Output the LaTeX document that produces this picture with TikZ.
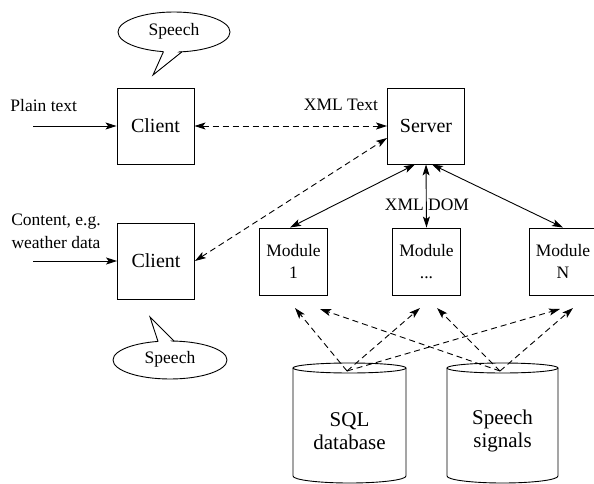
\documentclass[tikz,border=0pt]{standalone}
\usepackage{fontspec}
\setmainfont{Liberation Serif}
\usetikzlibrary{arrows.meta}
\begin{document}
\begin{tikzpicture}[x=1pt,y=-1pt,
  line width=0.9pt,
  tip/.tip={Stealth[length=11pt,width=7pt,inset=2.5pt]},
  box/.style={draw,inner sep=0pt},
  bigbox/.style={box,minimum width=77pt,minimum height=76pt,font=\fontsize{20}{24}\selectfont},
  modbox/.style={box,minimum width=68pt,minimum height=67pt,align=center,font=\fontsize{17.5}{22}\selectfont},
  lbl/.style={inner sep=0pt,font=\fontsize{17.5}{23}\selectfont},
  dbtext/.style={inner sep=0pt,align=center,font=\fontsize{21}{23}\selectfont},
  flow/.style={-tip},
  link/.style={tip-tip,dash pattern=on 6pt off 4pt},
  feed/.style={-tip,dash pattern=on 6pt off 4pt},
  both/.style={tip-tip}]
\useasboundingbox (0,0) rectangle (594,484);

% boxes
\node[bigbox] (c1) at (155.5,126) {Client};
\node[bigbox] (c2) at (156,261) {Client};
\node[bigbox] (srv) at (426,126) {Server};
\node[modbox] (m1) at (293.5,261.5) {Module\\1};
\node[modbox] (m2) at (426.5,261.5) {Module\\...};
\node[modbox] (mN) at (563,261.5) {Module\\N};

% inputs
\node[lbl,anchor=base west] (pt) at (10,111.5) {Plain text};
\node[lbl,align=center] (cw) at (56,231) {Content, e.g.\\weather data};
\coordinate (in1) at (33,126);
\coordinate (in2) at (33,261);
\draw[flow] (in1) -- (c1.west);
\draw[flow] (in2) -- (c2.west);

% client/server traffic
\draw[link] (c1.east) -- (srv.west);
\draw[link] (c2.east) -- ([yshift=-12pt]srv.west);
\node[lbl,anchor=base] (xt) at (341,110.5) {XML Text};

% server/module links
\draw[both] ([xshift=-11pt]srv.south) -- ([xshift=-3.5pt]m1.north);
\draw[both] (srv.south) -- (m2.north);
\draw[both] ([xshift=6pt]srv.south) -- (mN.north);
\node[lbl,anchor=base] (xd) at (427,210) {XML DOM};

% databases
\foreach \n/\cx/\r/\t in {sql/349.5/56.5/{SQL\\database}, sig/502.5/55.5/{Speech\\signals}}{
  \draw (\cx-\r,368) -- (\cx-\r,476)
        arc[start angle=180,end angle=360,x radius=\r pt,y radius=7pt]
        -- (\cx+\r,368);
  \draw (\cx,368) ellipse[x radius=\r pt,y radius=5pt];
  \node[dbtext] (\n) at (\cx,431) {\t};
  \coordinate (\n top) at (\cx-2.5,371);
}

% feeds into the modules
\coordinate (a1) at (295,308);
\coordinate (b1) at (320,309);
\coordinate (a2) at (420,308);
\coordinate (b2) at (437,308);
\coordinate (a3) at (560,309);
\coordinate (b3) at (573,308);
\draw[feed] (sqltop) -- (a1);
\draw[feed] (sqltop) -- (a2);
\draw[feed] (sqltop) -- (a3);
\draw[feed] (sigtop) -- (b1);
\draw[feed] (sigtop) -- (b2);
\draw[feed] (sigtop) -- (b3);

% speech bubbles
\draw (174,32) ellipse[x radius=56pt,y radius=20pt];
\fill[white] (164.5,49) -- (153.5,73) -- (181,49.5) -- cycle;
\draw (163.5,51.6) -- (153,75) -- (182,51.8);
\node[lbl] (sp1) at (174,31) {Speech};

\draw (170,360) ellipse[x radius=57pt,y radius=19pt];
\fill[white] (159,343.5) -- (150.5,319) -- (173,343.5) -- cycle;
\draw (158,341.4) -- (150,317) -- (174,341.1);
\node[lbl] (sp2) at (170,359) {Speech};
\end{tikzpicture}
\end{document}
